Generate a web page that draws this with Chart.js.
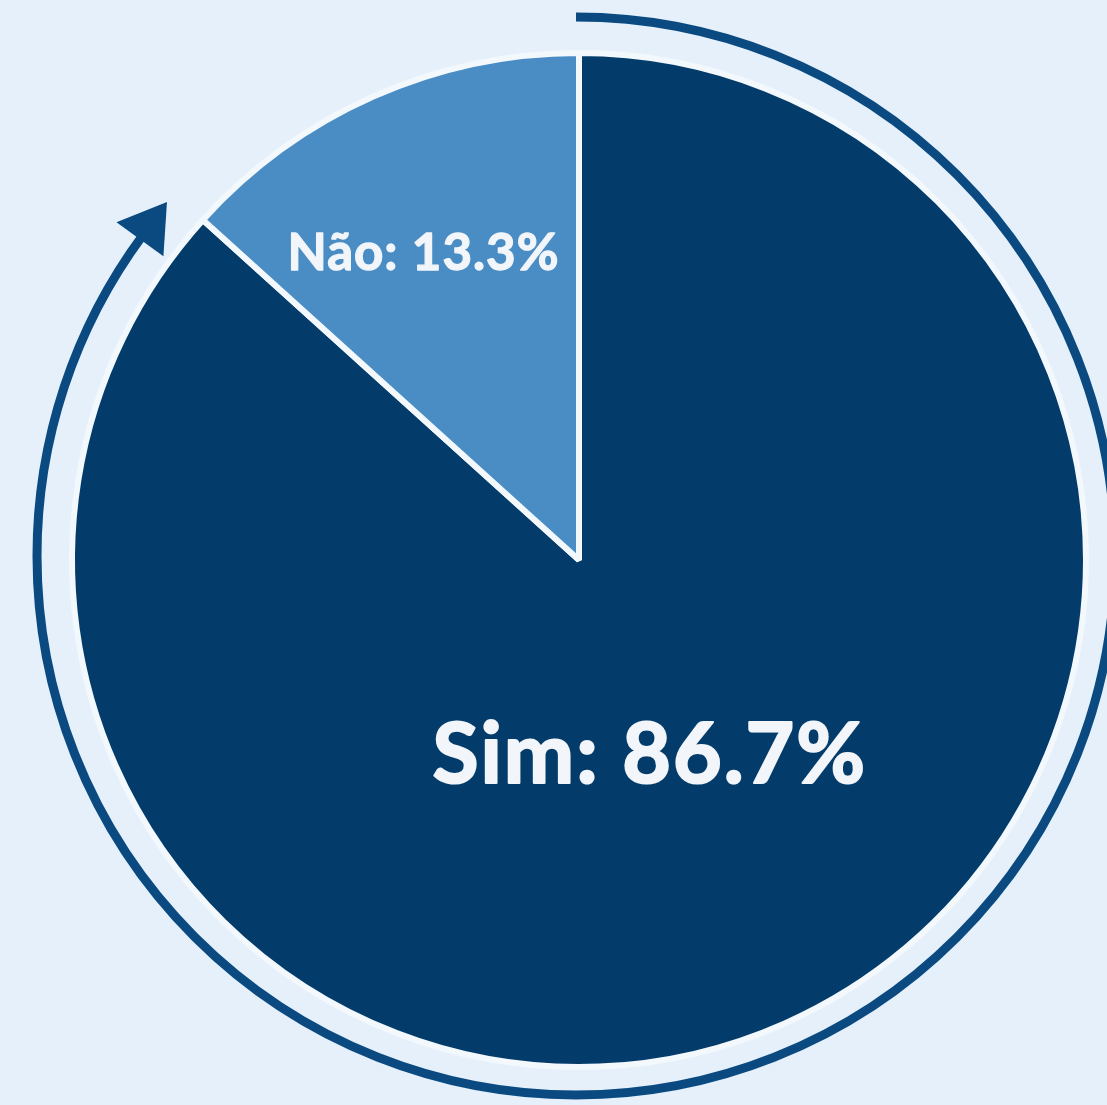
<!DOCTYPE html>
<html>
<head>
<meta charset="utf-8">
<script src="https://cdn.jsdelivr.net/npm/chart.js@4.4.1/dist/chart.umd.min.js"></script>
<style>
  html, body { margin: 0; padding: 0; background: #e5f0fa; }
  #wrap { width: 1107px; height: 1105px; position: relative; }
  canvas { display: block; }
</style>
</head>
<body>
<div id="wrap"><canvas id="c" width="1107" height="1105"></canvas></div>
<script>
// ---- data ----
const categories = ["Sim", "Não"];
const values = [86.7, 13.3];
const sliceColors = ["#033c6a", "#4a8dc4"];

// ---- label placement (style, not data) ----
const labelStyle = [
  { frac: 0.41, angleOffsetDeg: 4, font: "bold 84px Lato", stroke: 2.2, spacing: "2px" },
  { frac: 0.677, angleOffsetDeg: -3, font: "bold 51px Lato", stroke: 1.3, spacing: "1px" }
];

const labelPlugin = {
  id: 'sliceLabels',
  afterDatasetsDraw(chart) {
    const ctx = chart.ctx;
    const meta = chart.getDatasetMeta(0);
    meta.data.forEach((arc, i) => {
      const p = arc.getProps(['x', 'y', 'startAngle', 'endAngle', 'outerRadius'], true);
      const mid = (p.startAngle + p.endAngle) / 2 + labelStyle[i].angleOffsetDeg * Math.PI / 180;
      const r = p.outerRadius * labelStyle[i].frac;
      const x = p.x + Math.cos(mid) * r;
      const y = p.y + Math.sin(mid) * r;
      const text = categories[i] + ": " + values[i].toFixed(1) + "%";
      ctx.save();
      ctx.font = labelStyle[i].font;
      if ('letterSpacing' in ctx) ctx.letterSpacing = labelStyle[i].spacing;
      ctx.fillStyle = "#f2f5f9";
      ctx.strokeStyle = "#f2f5f9";
      ctx.lineWidth = labelStyle[i].stroke;
      ctx.lineJoin = "round";
      ctx.textAlign = "center";
      ctx.textBaseline = "middle";
      ctx.strokeText(text, x, y);
      ctx.fillText(text, x, y);
      ctx.restore();
    });
  }
};

const ringPlugin = {
  id: 'ring',
  afterDatasetsDraw(chart) {
    const ctx = chart.ctx;
    const arc = chart.getDatasetMeta(0).data[0];
    const p = arc.getProps(['x', 'y', 'outerRadius'], true);
    const cx = p.x - 3, cy = p.y - 4;
    const R = p.outerRadius + 32;
    const start = -Math.PI / 2;
    const end = 216 * Math.PI / 180;
    ctx.save();
    ctx.strokeStyle = "#0a4a80";
    ctx.fillStyle = "#0a4a80";
    ctx.lineWidth = 9;
    ctx.lineCap = "butt";
    ctx.beginPath();
    ctx.arc(cx, cy, R, start, end + 0.01, false);
    ctx.stroke();
    // arrowhead
    const px = cx + Math.cos(end) * R, py = cy + Math.sin(end) * R;
    const tx = -Math.sin(end), ty = Math.cos(end);
    const nx = Math.cos(end), ny = Math.sin(end);
    const len = 46, half = 29;
    ctx.beginPath();
    ctx.moveTo(px + tx * len, py + ty * len);
    ctx.lineTo(px + nx * half, py + ny * half);
    ctx.lineTo(px - nx * half, py - ny * half);
    ctx.closePath();
    ctx.fill();
    ctx.restore();
  }
};

new Chart(document.getElementById('c'), {
  type: 'pie',
  data: {
    labels: categories,
    datasets: [{
      data: values,
      backgroundColor: sliceColors,
      borderColor: "#f3f8fd",
      borderWidth: 6
    }]
  },
  options: {
    responsive: false,
    maintainAspectRatio: false,
    animation: false,
    layout: { padding: { left: 69, top: 50, right: 18, bottom: 35 } },
    plugins: {
      legend: { display: false },
      tooltip: { enabled: false }
    }
  },
  plugins: [ringPlugin, labelPlugin]
});
</script>
</body>
</html>
